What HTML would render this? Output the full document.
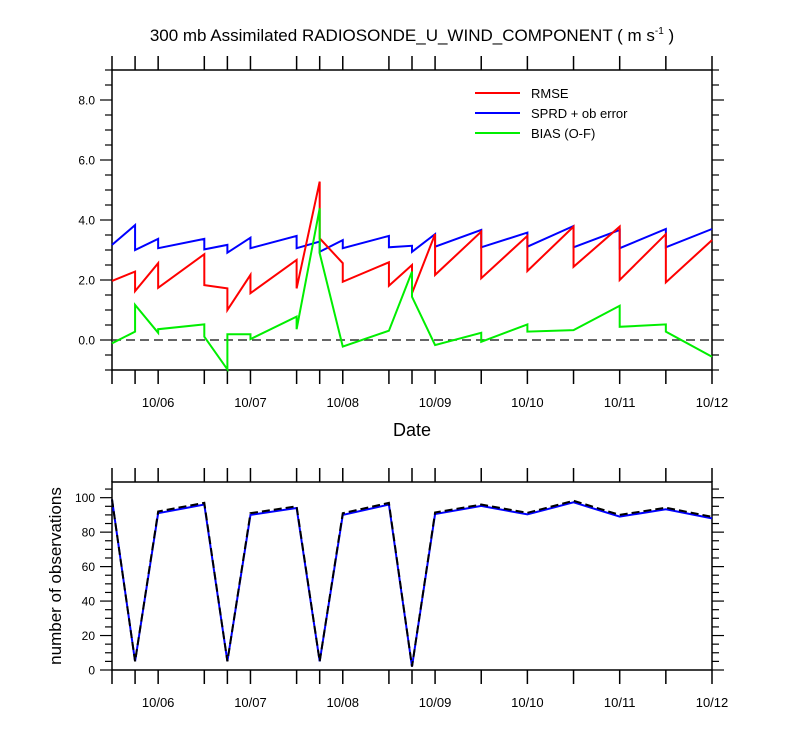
<!DOCTYPE html>
<html><head><meta charset="utf-8">
<style>
html,body{margin:0;padding:0;background:#fff;}
svg{display:block;font-family:"Liberation Sans",Arial,sans-serif;}
</style></head>
<body>
<svg id="chart" width="800" height="750" viewBox="0 0 800 750" xmlns="http://www.w3.org/2000/svg">
<text x="412" y="41" font-size="17" text-anchor="middle">300 mb Assimilated RADIOSONDE_U_WIND_COMPONENT ( m s<tspan dy="-7" font-size="10">-1</tspan><tspan dy="7"> )</tspan></text>
<g id="topPanel"></g>
<g id="botPanel"></g>
<text x="412" y="436" font-size="18" text-anchor="middle">Date</text>
<text x="0" y="0" font-size="17" text-anchor="middle" transform="translate(61,576) rotate(-90)">number of observations</text>
<g>
<line x1="475" y1="93" x2="520" y2="93" stroke="#ff0000" stroke-width="2"/>
<text x="531" y="98" font-size="13">RMSE</text>
<line x1="475" y1="113" x2="520" y2="113" stroke="#0000ff" stroke-width="2"/>
<text x="531" y="118" font-size="13">SPRD + ob error</text>
<line x1="475" y1="133" x2="520" y2="133" stroke="#00ee00" stroke-width="2"/>
<text x="531" y="138" font-size="13">BIAS (O-F)</text>
</g>
</svg>
<script>
// time in days since 10/05 12Z
const tickTimes = [0,0.25,0.5,1,1.25,1.5,2,2.25,2.5,3,3.25,3.5,4,4.5,5,5.5,6,6.5];
const dateLabels = ["10/06","10/07","10/08","10/09","10/10","10/11","10/12"];
const dateLabelTimes = [0.5,1.5,2.5,3.5,4.5,5.5,6.5];
const topYTicks = [0,2,4,6,8];
const botYTicks = [0,20,40,60,80,100];
const rmseT = [0,0.25,0.25,0.5,0.5,1,1,1.25,1.25,1.5,1.5,2,2,2.25,2.25,2.5,2.5,3,3,3.25,3.25,3.5,3.5,4,4,4.5,4.5,5,5,5.5,5.5,6,6,6.5];
const rmseV = [1.97,2.28,1.63,2.56,1.74,2.86,1.83,1.72,1.0,2.17,1.56,2.67,1.72,5.28,3.39,2.56,1.94,2.59,1.81,2.5,1.56,3.53,2.17,3.61,2.06,3.47,2.3,3.78,2.44,3.78,2.0,3.53,1.92,3.33];
const sprdT = [0,0.25,0.25,0.5,0.5,1,1,1.25,1.25,1.5,1.5,2,2,2.25,2.25,2.5,2.5,3,3,3.25,3.25,3.5,3.5,4,4,4.5,4.5,5,5,5.5,5.5,6,6,6.5];
const sprdV = [3.17,3.83,3.0,3.37,3.06,3.37,3.02,3.17,2.91,3.41,3.06,3.47,3.06,3.28,2.94,3.33,3.06,3.47,3.09,3.14,2.94,3.53,3.11,3.67,3.09,3.58,3.11,3.8,3.09,3.67,3.06,3.7,3.09,3.7];
const biasT = [0,0.25,0.25,0.5,0.5,1,1,1.25,1.25,1.5,1.5,2,2,2.25,2.25,2.5,3,3.25,3.25,3.5,4,4,4.5,4.5,5,5.5,5.5,6,6,6.5];
const biasV = [-0.11,0.28,1.17,0.24,0.36,0.52,0.11,-0.98,0.19,0.19,0.03,0.78,0.36,4.39,2.89,-0.22,0.31,2.28,1.44,-0.17,0.24,-0.06,0.52,0.28,0.33,1.14,0.44,0.52,0.28,-0.56];
const obsT = [0,0.25,0.5,1,1.25,1.5,2,2.25,2.5,3,3.25,3.5,4,4.5,5,5.5,6,6.5];
const obsUsed = [99,5,91,96,5,90,94,5,90,96,2,90.5,95.2,90.3,97.3,89,93.3,88];
const obsPossible = [99,5,92,97,5,91,95,5,91,97,2,91.4,96,91.2,98.2,90,94.2,88.9];

const NS="http://www.w3.org/2000/svg";
const X0=112,X1=712,TMAX=6.5;
const xs=t=>X0+(X1-X0)*t/TMAX;
const T_Y0=70,T_Y1=370,T_MIN=-1,T_MAX=9;
const yTop=v=>T_Y1-(v-T_MIN)/(T_MAX-T_MIN)*(T_Y1-T_Y0);
const B_Y0=482,B_Y1=670,B_MIN=0,B_MAX=109.1;
const yBot=v=>B_Y1-(v-B_MIN)/(B_MAX-B_MIN)*(B_Y1-B_Y0);
function mk(tag,attrs,parent){const e=document.createElementNS(NS,tag);for(const k in attrs)e.setAttribute(k,attrs[k]);parent.appendChild(e);return e;}

function panel(g,Y0,Y1,ys,yTicks,minorStep,vmin,vmax,fmt,name){
  const f=mk('rect',{x:X0,y:Y0,width:X1-X0,height:Y1-Y0,fill:'none',stroke:'#000','stroke-width':1.5},g);
  
  
  tickTimes.forEach(t=>{
    const a=mk('line',{x1:xs(t),x2:xs(t),y1:Y1,y2:Y1+14,stroke:'#000','stroke-width':1.5},g);
    
    
    const b=mk('line',{x1:xs(t),x2:xs(t),y1:Y0,y2:Y0-14,stroke:'#000','stroke-width':1.5},g);
    
    
  });
  dateLabels.forEach((d,i)=>{
    const tx=mk('text',{x:xs(dateLabelTimes[i]),y:Y1+37,'font-size':13,'text-anchor':'middle'},g);
    tx.textContent=d;
    
    
  });
  for(let v=Math.ceil(vmin/minorStep)*minorStep;v<=vmax+1e-9;v+=minorStep){
    const major=yTicks.some(m=>Math.abs(m-v)<1e-6);
    const L=major?12:7;
    const l1=mk('line',{x1:X0,x2:X0-L,y1:ys(v),y2:ys(v),stroke:'#000','stroke-width':1.2},g);
    
    
    const l2=mk('line',{x1:X1,x2:X1+L,y1:ys(v),y2:ys(v),stroke:'#000','stroke-width':1.2},g);
    
    
  }
  yTicks.forEach(v=>{
    const tx=mk('text',{x:X0-17,y:ys(v)+4.5,'font-size':12,'text-anchor':'end'},g);
    tx.textContent=fmt(v);
    
    
  });
}
function drawLine(g,T,V,ys,color,name,dash){
  const p=mk('polyline',{points:T.map((t,i)=>xs(t)+','+ys(V[i])).join(' '),fill:'none',stroke:color,'stroke-width':2,'stroke-linejoin':'miter'},g);
  if(dash)p.setAttribute('stroke-dasharray',dash);
  
  
}
const topG=document.getElementById('topPanel');
panel(topG,T_Y0,T_Y1,yTop,topYTicks,0.5,T_MIN,T_MAX,v=>v.toFixed(1),'top');
const z=mk('line',{x1:X0,x2:X1,y1:yTop(0),y2:yTop(0),stroke:'#333','stroke-width':1.5,'stroke-dasharray':'9,5'},topG);


drawLine(topG,sprdT,sprdV,yTop,'#0000ff','sprd-line');
drawLine(topG,rmseT,rmseV,yTop,'#ff0000','rmse-line');
drawLine(topG,biasT,biasV,yTop,'#00ee00','bias-line');
const botG=document.getElementById('botPanel');
panel(botG,B_Y0,B_Y1,yBot,botYTicks,5,B_MIN,B_MAX,v=>String(v),'bottom');
drawLine(botG,obsT,obsUsed,yBot,'#0000ff','obs-used-line');
drawLine(botG,obsT,obsPossible,yBot,'#000000','obs-possible-line','8,4');
</script>
</body></html>
